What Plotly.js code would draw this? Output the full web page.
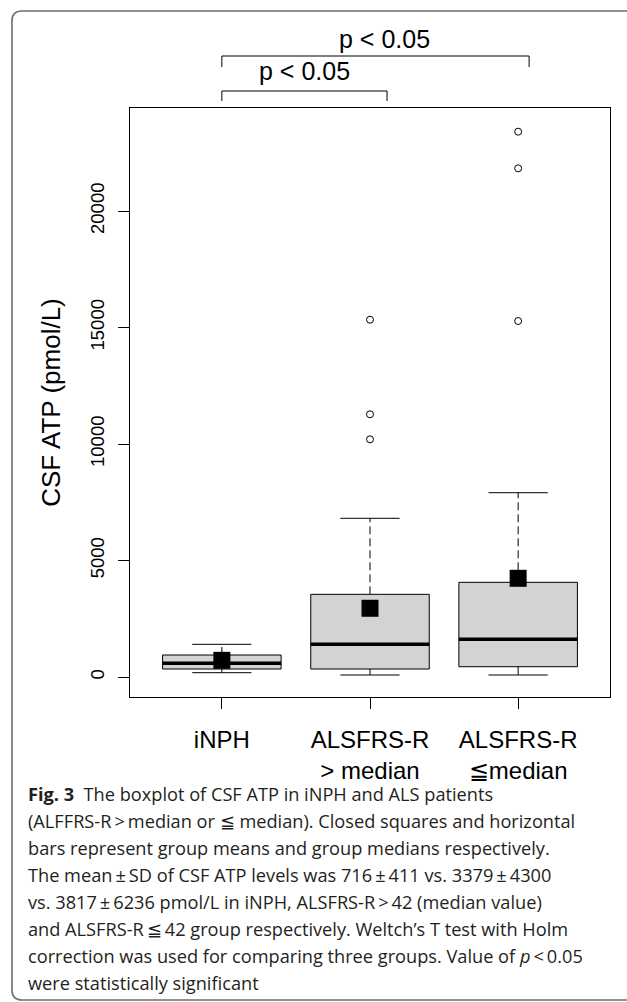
<!DOCTYPE html>
<html><head><meta charset="utf-8">
<script src="https://cdn.plot.ly/plotly-3.0.1.min.js"></script>
<style>html,body{margin:0;padding:0;background:#fff;}</style>
</head><body><div id="chart" style="width:627px;height:1002px;"></div>
<script>
// ---- data ----
const groups = ["iNPH", "ALSFRS-R<br>&gt; median", "ALSFRS-R<br>≦median"];
const q1 = [343, 343, 442];
const medians = [588, 1403, 1618];
const q3 = [944, 3549, 4064];
const whiskerLow = [185, 86, 86];
const whiskerHigh = [1403, 6811, 7910];
const means = [716, 2950, 4236];
const outliersINPH = [];
const outliersALS1 = [15335, 11275, 10202];
const outliersALS2 = [23405, 21832, 15279];
const yTickVals = [0, 5000, 10000, 15000, 20000];
const yTickText = ["0", "5000", "10000", "15000", "20000"];
const pLabels = ["p &lt; 0.05", "p &lt; 0.05"];
const bracketFrom = [1, 1];
const bracketTo = [2.115, 3.074];
const pLabelX = [1.56, 2.10];
const captionLines = [
  "<b>Fig. 3</b>  The boxplot of CSF ATP in iNPH and ALS patients",
  "(ALFFRS-R\u2009&gt;\u2009median or \u2266 median). Closed squares and horizontal",
  "bars represent group means and group medians respectively.",
  "The mean\u2009\u00b1\u2009SD of CSF ATP levels was 716\u2009\u00b1\u2009411 vs. 3379\u2009\u00b1\u20094300",
  "vs. 3817\u2009\u00b1\u20096236 pmol/L in iNPH, ALSFRS-R\u2009&gt;\u200942 (median value)",
  "and ALSFRS-R\u2009\u2266\u200942 group respectively. Weltch\u2019s T test with Holm",
  "correction was used for comparing three groups. Value of <i>p</i>\u2009&lt;\u20090.05",
  "were statistically significant"
];

// ---- geometry / style ----
const W = 627, H = 1002;
const M = {l: 130, r: 17, t: 108, b: 305};
const PW = W - M.l - M.r, PH = H - M.t - M.b;
const xRange = [0.38, 3.62];
const yRange = [-858, 24421];
const boxHalf = 0.4, capHalf = 0.2;
const px2x = px => (px - M.l) / PW;
const py2y = py => (H - M.b - py) / PH;
const d2x = v => (v - xRange[0]) / (xRange[1] - xRange[0]);

const traces = [];
const outliers = [outliersINPH, outliersALS1, outliersALS2];
groups.forEach((g, i) => {
  const c = i + 1;
  traces.push({type: 'scatter', mode: 'lines', x: [c-boxHalf, c+boxHalf, c+boxHalf, c-boxHalf, c-boxHalf],
    y: [q1[i], q1[i], q3[i], q3[i], q1[i]], fill: 'toself', fillcolor: '#D3D3D3',
    line: {color: '#000', width: 1}, hoverinfo: 'skip', showlegend: false});
  traces.push({type: 'scatter', mode: 'lines', x: [c-boxHalf, c+boxHalf], y: [medians[i], medians[i]],
    line: {color: '#000', width: 3.5}, showlegend: false});
  traces.push({type: 'scatter', mode: 'lines', x: [c, c, null, c, c], y: [q3[i], whiskerHigh[i], null, q1[i], whiskerLow[i]],
    line: {color: '#000', width: 1, dash: '8px,4px'}, showlegend: false});
  traces.push({type: 'scatter', mode: 'lines', x: [c-capHalf, c+capHalf, null, c-capHalf, c+capHalf],
    y: [whiskerHigh[i], whiskerHigh[i], null, whiskerLow[i], whiskerLow[i]],
    line: {color: '#000', width: 1}, showlegend: false});
  if (outliers[i].length) traces.push({type: 'scatter', mode: 'markers', x: outliers[i].map(() => c), y: outliers[i],
    marker: {symbol: 'circle-open', size: 7, color: '#000', line: {width: 1}}, showlegend: false});
});
traces.push({type: 'scatter', mode: 'markers', x: [1, 2, 3], y: means,
  marker: {symbol: 'square', size: 17, color: '#000'}, showlegend: false});

const shapes = [];
const bTop = [py2y(91), py2y(56)];
const bDropL = [py2y(101), py2y(67)];
const bDropR = [py2y(101), py2y(67)];
for (let k = 0; k < 2; k++) {
  const xl = d2x(bracketFrom[k]), xr = d2x(bracketTo[k]);
  shapes.push({type: 'path', xref: 'paper', yref: 'paper',
    path: `M${xl},${bDropL[k]} L${xl},${bTop[k]} L${xr},${bTop[k]} L${xr},${bDropR[k]}`,
    line: {color: '#000', width: 1}});
}
{
  const xl = px2x(12), xr = px2x(640), yt = py2y(11), yb = py2y(1000);
  const rx = 10 / PW, ry = 10 / PH;
  shapes.push({type: 'path', xref: 'paper', yref: 'paper',
    path: `M${xr},${yt} L${xl+rx},${yt} Q${xl},${yt} ${xl},${yt-ry} L${xl},${yb+ry} Q${xl},${yb} ${xl+rx},${yb} L${xr},${yb}`,
    line: {color: '#6e6e6e', width: 1.6}});
}

const annotations = [];
const pTextY = [py2y(71.4), py2y(39.4)];
for (let k = 0; k < 2; k++) {
  annotations.push({xref: 'x', yref: 'paper', x: pLabelX[k], y: pTextY[k], text: pLabels[k],
    showarrow: false, xanchor: 'center', yanchor: 'middle',
    font: {family: 'Liberation Sans, Arial, sans-serif', size: 25, color: '#000'}});
}
captionLines.forEach((t, i) => {
  annotations.push({xref: 'paper', yref: 'paper', x: px2x(26), y: py2y(794 + 27 * i), text: t,
    showarrow: false, xanchor: 'left', yanchor: 'middle', align: 'left',
    font: {family: 'Open Sans, sans-serif', size: 18.2, color: '#231f20'}});
});

const layout = {
  width: W, height: H, margin: M, paper_bgcolor: '#fff', plot_bgcolor: '#fff', showlegend: false,
  font: {family: 'Liberation Sans, Arial, sans-serif', color: '#000'},
  xaxis: {range: xRange, tickvals: [1, 2, 3], ticktext: groups, ticks: 'outside', ticklen: 11,
    tickcolor: '#000', showline: true, linecolor: '#000', linewidth: 1, mirror: true,
    showgrid: false, zeroline: false, tickfont: {size: 24}, ticklabelstandoff: 10},
  yaxis: {range: yRange, tickvals: yTickVals, ticktext: yTickText, ticks: 'outside', ticklen: 11,
    tickcolor: '#000', showline: true, linecolor: '#000', linewidth: 1, mirror: true,
    showgrid: false, zeroline: false, tickangle: -90, tickfont: {size: 18.5}, ticklabelstandoff: 7,
    title: {text: 'CSF ATP (pmol/L)', font: {size: 26}, standoff: 18}},
  shapes, annotations
};
Plotly.newPlot('chart', traces, layout, {staticPlot: true, displayModeBar: false});
</script></body></html>
